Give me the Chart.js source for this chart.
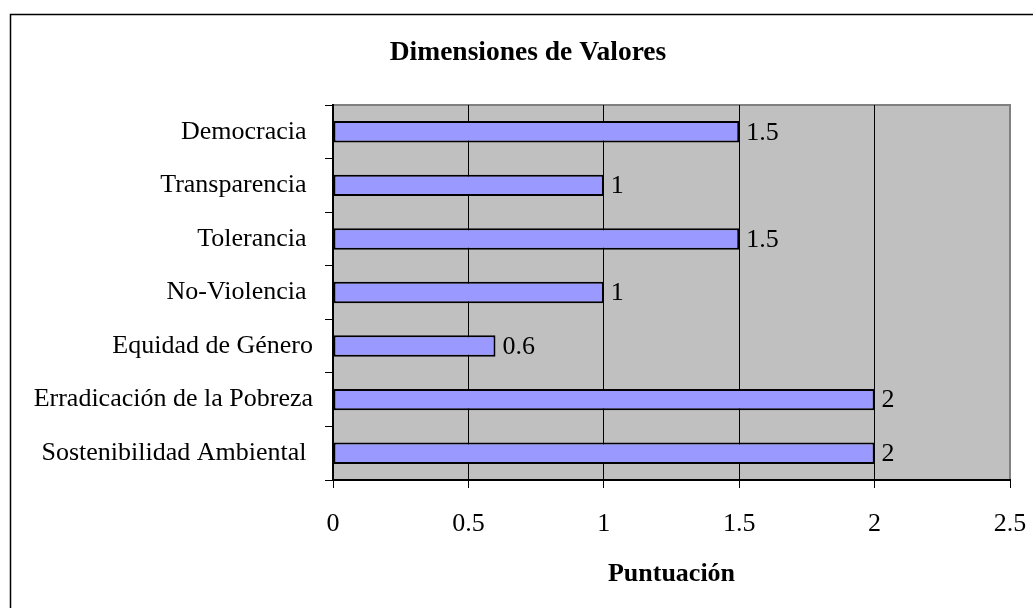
<!DOCTYPE html>
<html>
<head>
<meta charset="utf-8">
<script src="https://cdn.jsdelivr.net/npm/chart.js@4.4.0/dist/chart.umd.min.js"></script>
<style>
  body { margin: 0; background: #fff; }
  #wrap { width: 1033px; height: 608px; }
</style>
</head>
<body>
<div id="wrap"><canvas id="myChart" width="1033" height="608"></canvas></div>
<script>
// values
var categories = ["Democracia ", "Transparencia ", "Tolerancia ", "No-Violencia ", "Equidad de Género", "Erradicación de la Pobreza", "Sostenibilidad Ambiental "];
var scores = [1.5, 1, 1.5, 1, 0.6, 2, 2];
var xTicks = [0, 0.5, 1, 1.5, 2, 2.5];
var chartTitle = "Dimensiones de Valores";
var xTitle = "Puntuación";

var serif = "'Liberation Serif', 'DejaVu Serif', serif";

// frame, grey plot area and title
var decor = {
  id: 'decor',
  beforeDraw: function (chart) {
    var ctx = chart.ctx, a = chart.chartArea;
    ctx.save();
    ctx.fillStyle = '#c0c0c0';
    ctx.fillRect(a.left, a.top, a.right - a.left, a.bottom - a.top);
    ctx.strokeStyle = '#808080';
    ctx.lineWidth = 2;
    ctx.strokeRect(a.left, a.top, a.right - a.left, a.bottom - a.top);
    ctx.strokeStyle = '#000';
    ctx.lineWidth = 1.5;
    ctx.strokeRect(10.5, 14.5, 1100, 700);
    ctx.fillStyle = '#000';
    ctx.font = 'bold 27.5px ' + serif;
    ctx.textAlign = 'center';
    ctx.textBaseline = 'middle';
    ctx.fillText(chartTitle, 528, 53);
    ctx.restore();
  },
  afterDatasetsDraw: function (chart) {
    var ctx = chart.ctx;
    var meta = chart.getDatasetMeta(0);
    ctx.save();
    ctx.fillStyle = '#000';
    ctx.font = '26px ' + serif;
    ctx.textAlign = 'left';
    ctx.textBaseline = 'middle';
    meta.data.forEach(function (bar, i) {
      ctx.fillText(String(scores[i]), bar.x + 7, bar.y + 1);
    });
    ctx.restore();
  }
};

var ctx = document.getElementById("myChart").getContext("2d");
var myChart = new Chart(ctx, {
  type: 'bar',
  data: {
    labels: categories,
    datasets: [{
      data: scores,
      backgroundColor: '#9999ff',
      borderColor: '#000',
      borderWidth: 2,
      borderSkipped: false,
      categoryPercentage: 1,
      barPercentage: 0.4
    }]
  },
  options: {
    indexAxis: 'y',
    responsive: false,
    animation: false,
    layout: { padding: { left: 20, top: 105, right: 23, bottom: 0 } },
    plugins: {
      legend: { display: false },
      title: { display: false },
      tooltip: { enabled: false }
    },
    scales: {
      x: {
        min: 0,
        max: 2.5,
        afterFit: function (s) {
          s.height = 128;
          s.paddingLeft = 0;
          s.paddingRight = 0;
        },
        afterBuildTicks: function (s) {
          s.ticks = xTicks.map(function (v) { return { value: v }; });
        },
        ticks: {
          color: '#000',
          font: { family: serif, size: 26 },
          padding: 21,
          maxRotation: 0,
          callback: function (v) { return String(v); }
        },
        grid: {
          color: function (c) { return c.tick && c.tick.value === 2.5 ? '#808080' : '#000'; },
          tickColor: '#000',
          tickLength: 8,
          lineWidth: 1
        },
        border: { color: '#000', width: 2 },
        title: {
          display: true,
          text: xTitle,
          color: '#000',
          font: { family: serif, size: 26, weight: 'bold' },
          padding: { top: 0, bottom: 18 }
        }
      },
      y: {
        afterFit: function (s) {
          s.width = 313;
          s.paddingTop = 0;
          s.paddingBottom = 0;
        },
        ticks: {
          color: '#000',
          font: { family: serif, size: 26 },
          padding: 12
        },
        grid: {
          offset: true,
          drawOnChartArea: false,
          tickColor: '#000',
          tickLength: 8
        },
        border: { color: '#000', width: 2 }
      }
    }
  },
  plugins: [decor]
});
</script>
</body>
</html>
